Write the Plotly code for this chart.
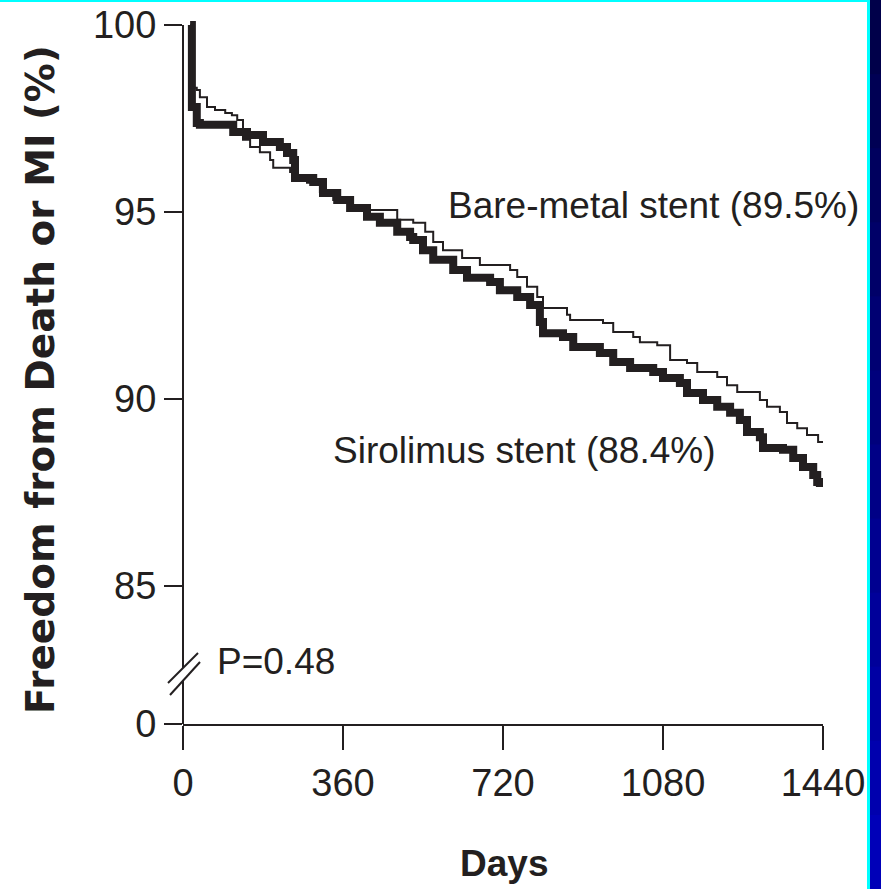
import plotly.graph_objects as go

# ---------------- data ----------------
bms_days = [16, 20, 31, 38, 54, 72, 95, 110, 122, 135, 151, 173, 196, 203, 241, 252, 279, 308, 338, 376,
            410, 482, 518, 545, 563, 585, 628, 668, 736, 752, 774, 797, 810, 864, 871, 945, 968, 1013,
            1028, 1067, 1096, 1134, 1157, 1202, 1224, 1247, 1298, 1314, 1343, 1359, 1382, 1404, 1429, 1440]
bms_surv = [100.0, 98.32, 98.26, 98.07, 97.81, 97.73, 97.65, 97.59, 97.46, 96.93, 96.74, 96.60, 96.39, 96.18,
            96.07, 95.94, 95.78, 95.53, 95.32, 95.13, 95.05, 94.79, 94.71, 94.47, 94.20, 93.98, 93.77, 93.58,
            93.45, 93.26, 93.00, 92.73, 92.43, 92.25, 92.11, 92.03, 91.79, 91.66, 91.52, 91.44, 91.04, 90.96,
            90.72, 90.59, 90.37, 90.19, 89.97, 89.79, 89.65, 89.36, 89.22, 89.04, 88.85, 88.85]

sir_days = [16, 20, 31, 38, 113, 144, 180, 218, 234, 248, 252, 293, 315, 347, 376, 414, 443, 482, 511, 518,
            540, 563, 608, 639, 691, 713, 752, 781, 803, 810, 855, 878, 938, 968, 1006, 1058, 1080, 1118,
            1134, 1170, 1202, 1231, 1253, 1269, 1298, 1305, 1350, 1373, 1395, 1418, 1427, 1433]
sir_surv = [100.0, 97.81, 97.38, 97.33, 97.14, 97.06, 96.87, 96.74, 96.58, 96.39, 95.91, 95.80, 95.51, 95.32,
            95.11, 94.87, 94.71, 94.47, 94.33, 94.25, 93.98, 93.72, 93.45, 93.24, 93.13, 92.91, 92.73, 92.51,
            92.06, 91.76, 91.66, 91.39, 91.23, 90.99, 90.83, 90.72, 90.56, 90.43, 90.16, 89.97, 89.79, 89.63,
            89.44, 89.12, 88.98, 88.69, 88.64, 88.42, 88.18, 87.97, 87.78, 87.65]

x_ticks = [0, 360, 720, 1080, 1440]
y_ticks = [0, 85, 90, 95, 100]
y_tick_labels = ["0", "85", "90", "95", "100"]

bms_label = "Bare-metal stent (89.5%)"
sir_label = "Sirolimus stent (88.4%)"
p_label = "P=0.48"
y_title = "Freedom from Death or MI (%)"
x_title = "Days"

# ---------------- layout constants ----------------
W, H = 881, 889
ML, MR, MT, MB = 183, 58, 3, 165
PW, PH = W - ML - MR, H - MT - MB
Y_LO, Y_HI = 81.31, 100.588   # broken axis: "0" drawn at Y_LO
BREAK_LO, BREAK_HI = 82.46, 82.81
INK = "#231f20"
TICK_FONT = dict(family="Liberation Sans, Arial, sans-serif", size=38, color=INK)
TEXT_FONT = dict(family="Liberation Sans, Arial, sans-serif", size=37, color=INK)


def px_x(px):
    return (px - ML) / PW


def px_y(py):
    return (H - MB - py) / PH


def val_y(v):
    return (v - Y_LO) / (Y_HI - Y_LO)


def y_pos(v):
    return v if v >= 85 else Y_LO


fig = go.Figure()
fig.add_trace(go.Scatter(x=sir_days, y=sir_surv, mode="lines", line=dict(color=INK, width=8, shape="hv"),
                         name="Sirolimus stent", showlegend=False, hoverinfo="skip"))
fig.add_trace(go.Scatter(x=bms_days, y=bms_surv, mode="lines", line=dict(color=INK, width=2, shape="hv"),
                         name="Bare-metal stent", showlegend=False, hoverinfo="skip"))

shapes = []
# y-axis line, broken
shapes.append(dict(type="line", xref="paper", yref="paper", x0=0, x1=0, y0=0, y1=val_y(BREAK_LO),
                   line=dict(color=INK, width=2)))
shapes.append(dict(type="line", xref="paper", yref="paper", x0=0, x1=0, y0=val_y(BREAK_HI), y1=val_y(100),
                   line=dict(color=INK, width=2)))
# break marks
shapes.append(dict(type="line", xref="paper", yref="paper", x0=px_x(168), y0=px_y(683), x1=px_x(198), y1=px_y(653),
                   line=dict(color=INK, width=2)))
shapes.append(dict(type="line", xref="paper", yref="paper", x0=px_x(170), y0=px_y(695), x1=px_x(200), y1=px_y(662),
                   line=dict(color=INK, width=2)))
# frame decoration: cyan top line, cyan right line, blue gradient band
shapes.append(dict(type="rect", xref="paper", yref="paper", x0=px_x(0), x1=px_x(870), y0=px_y(2), y1=px_y(0),
                   fillcolor="#00ffff", line=dict(width=0), layer="below"))
n = 12
for i in range(n):
    t = i / (n - 1)
    b = int(74 + t * (184 - 74))
    shapes.append(dict(type="rect", xref="paper", yref="paper", x0=px_x(870), x1=px_x(882),
                       y0=px_y(H * (i + 1) / n + 1), y1=px_y(H * i / n),
                       fillcolor=f"rgb(0,0,{b})", line=dict(width=0), layer="below"))
shapes.append(dict(type="rect", xref="paper", yref="paper", x0=px_x(867), x1=px_x(870), y0=px_y(H + 1), y1=px_y(0),
                   fillcolor="#00ffff", line=dict(width=0), layer="below"))

annotations = [
    dict(x=592, y=95.17, xref="x", yref="y", text=bms_label, showarrow=False, xanchor="left", yanchor="middle",
         font=TEXT_FONT),
    dict(x=333, y=88.62, xref="x", yref="y", text=sir_label, showarrow=False, xanchor="left", yanchor="middle",
         font=TEXT_FONT),
    dict(x=71, y=82.97, xref="x", yref="y", text=p_label, showarrow=False, xanchor="left", yanchor="middle",
         font=TEXT_FONT),
    dict(x=px_x(40), y=px_y(380), xref="paper", yref="paper", text=y_title, textangle=-90, showarrow=False,
         xanchor="center", yanchor="middle", font=dict(family="DejaVu Sans, sans-serif", size=39, color=INK,
                                                         weight="bold")),
    dict(x=px_x(504), y=px_y(864), xref="paper", yref="paper", text=x_title, showarrow=False,
         xanchor="center", yanchor="middle",
         font=dict(family="Liberation Sans, Arial, sans-serif", size=37, color=INK, weight="bold")),
]

fig.update_layout(
    width=W, height=H,
    margin=dict(l=ML, r=MR, t=MT, b=MB, pad=0),
    paper_bgcolor="white", plot_bgcolor="white",
    shapes=shapes, annotations=annotations,
    xaxis=dict(range=[0, 1440], tickvals=x_ticks, ticktext=[str(v) for v in x_ticks], showgrid=False,
               zeroline=False, showline=True, linecolor=INK, linewidth=2, ticks="outside", ticklen=24,
               tickwidth=2, tickcolor=INK, tickfont=TICK_FONT, fixedrange=True),
    yaxis=dict(range=[Y_LO, Y_HI], tickvals=[y_pos(v) for v in y_ticks], ticktext=y_tick_labels, showgrid=False,
               zeroline=False, showline=False, ticks="outside", ticklen=18, tickwidth=2, tickcolor=INK,
               tickfont=TICK_FONT, fixedrange=True),
    showlegend=False,
)

fig.write_html("out.html", config={"displayModeBar": False},
               post_script="document.body.style.margin='0';document.body.style.overflow='hidden';")
